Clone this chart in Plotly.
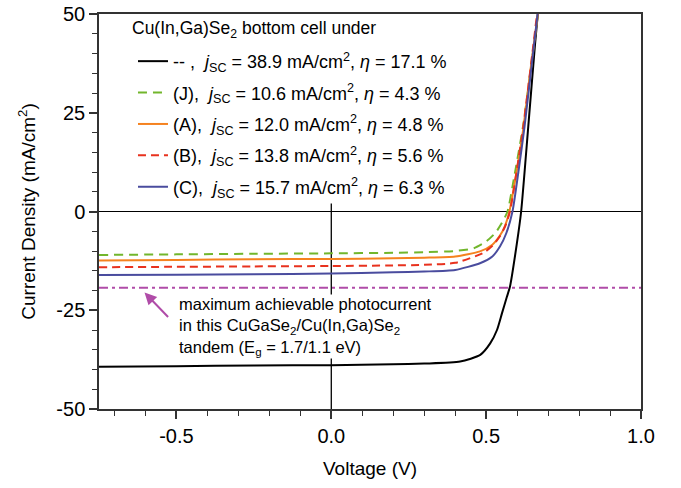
import plotly.graph_objects as go

# ---- data ----
v_ref = [-0.75, -0.5, -0.25, 0.0, 0.2, 0.3, 0.416, 0.481, 0.513, 0.535, 0.551, 0.567, 0.577, 0.599, 0.613, 0.636, 0.658, 0.668]
j_ref = [-39.3, -39.15, -39.0, -38.9, -38.7, -38.5, -38.0, -36.3, -33.4, -30.0, -25.8, -21.6, -19.0, -8.2, 0.0, 21.5, 42.5, 51.0]

v_J = [-0.75, -0.5, -0.25, 0.0, 0.2, 0.3, 0.4, 0.46, 0.5, 0.53, 0.55, 0.569, 0.59, 0.62, 0.645, 0.668]
j_J = [-11.0, -10.85, -10.7, -10.6, -10.45, -10.3, -10.0, -9.3, -7.6, -5.4, -3.0, 0.0, 8.5, 22.0, 36.5, 50.5]

v_A = [-0.75, -0.5, -0.25, 0.0, 0.2, 0.3, 0.4, 0.48, 0.52, 0.545, 0.56, 0.575, 0.595, 0.62, 0.645, 0.668]
j_A = [-12.4, -12.25, -12.1, -12.0, -11.85, -11.7, -11.4, -10.1, -8.4, -6.0, -3.8, 0.0, 8.5, 21.0, 37.0, 50.5]

v_B = [-0.75, -0.5, -0.25, 0.0, 0.2, 0.3, 0.4, 0.49, 0.52, 0.545, 0.561, 0.577, 0.6, 0.62, 0.653, 0.665]
j_B = [-14.1, -14.0, -13.9, -13.8, -13.65, -13.5, -13.0, -10.5, -8.7, -6.2, -3.8, 0.0, 11.0, 21.5, 42.5, 50.5]

v_C = [-0.75, -0.5, -0.25, 0.0, 0.2, 0.3, 0.4, 0.48, 0.52, 0.545, 0.565, 0.585, 0.605, 0.624, 0.655, 0.667]
j_C = [-16.1, -16.0, -15.9, -15.7, -15.4, -15.2, -14.8, -13.1, -11.4, -8.8, -5.5, 0.0, 10.5, 21.5, 42.5, 50.5]

v_max = [-0.75, 1.0]
j_max = [-19.3, -19.3]

labels = [
    "-- ,  <i>j</i><sub>SC</sub> = 38.9 mA/cm<sup>2</sup>, <i>η</i> = 17.1 %",
    "(J),  <i>j</i><sub>SC</sub> = 10.6 mA/cm<sup>2</sup>, <i>η</i> = 4.3 %",
    "(A),  <i>j</i><sub>SC</sub> = 12.0 mA/cm<sup>2</sup>, <i>η</i> = 4.8 %",
    "(B),  <i>j</i><sub>SC</sub> = 13.8 mA/cm<sup>2</sup>, <i>η</i> = 5.6 %",
    "(C),  <i>j</i><sub>SC</sub> = 15.7 mA/cm<sup>2</sup>, <i>η</i> = 6.3 %",
]
legend_title = "Cu(In,Ga)Se<sub>2</sub> bottom cell under"
note_text = ("maximum achievable photocurrent<br>"
             "in this CuGaSe<sub>2</sub>/Cu(In,Ga)Se<sub>2</sub><br>"
             "tandem (E<sub>g</sub> = 1.7/1.1 eV)")
x_ticks = [-0.5, 0.0, 0.5, 1.0]
x_ticktext = ["-0.5", "0.0", "0.5", "1.0"]
y_ticks = [-50, -25, 0, 25, 50]
y_ticktext = ["-50", "-25", "0", "25", "50"]

FONT = "Arial, Liberation Sans, sans-serif"
colors = ["#000000", "#72b62c", "#f5821f", "#e8321e", "#4a4c9e"]
dashes = ["solid", "9px,6px", "solid", "8px,5px", "solid"]
magenta = "#b04ca8"

fig = go.Figure()
fig.add_trace(go.Scatter(x=v_max, y=j_max, mode="lines", showlegend=False,
                         line=dict(color=magenta, width=1.8, dash="9px,4px,3px,4px")))

series = [(v_ref, j_ref), (v_J, j_J), (v_A, j_A), (v_B, j_B), (v_C, j_C)]
for i, ((vx, jy), lab, c, d) in enumerate(zip(series, labels, colors, dashes)):
    fig.add_trace(go.Scatter(x=vx, y=jy, mode="lines", name=lab, legendgroup=f"g{i}",
                             line=dict(color=c, width=2, dash=d, shape="spline", smoothing=0.6)))

# vertical reference line at V = 0 (stops just above the zero line, as in the reference)
fig.add_shape(type="line", xref="x", yref="y", x0=0, x1=0, y0=-50, y1=2,
              line=dict(color="black", width=1.3), layer="below")

fig.add_annotation(x=-0.494, y=-29, xref="x", yref="y", text=note_text, showarrow=False,
                   xanchor="left", yanchor="middle", align="left", bgcolor="white", borderpad=0,
                   font=dict(family=FONT, size=16.5, color="black"))
fig.add_annotation(x=-0.603, y=-20.5, xref="x", yref="y", text="", showarrow=True,
                   ax=25, ay=26, arrowcolor=magenta, arrowwidth=2, arrowhead=2, arrowsize=1.2)
fig.add_annotation(x=0.057, y=0.9595, xref="paper", yref="paper", text=legend_title, showarrow=False,
                   xanchor="left", yanchor="middle", align="left",
                   font=dict(family=FONT, size=17.5, color="black"))

axis_common = dict(showline=True, linecolor="#333333", linewidth=1.5, mirror=True,
                   ticks="outside", ticklen=8, tickwidth=1.5, tickcolor="#333333",
                   showgrid=False, automargin=False,
                   tickfont=dict(family=FONT, size=20, color="black"))

fig.update_layout(
    width=681, height=488,
    margin=dict(l=99, r=40, t=14, b=79),
    plot_bgcolor="white", paper_bgcolor="white",
    font=dict(family=FONT, color="black"),
    xaxis=dict(range=[-0.75, 1.0], tickvals=x_ticks, ticktext=x_ticktext, zeroline=False,
               minor=dict(dtick=0.1, tick0=0, ticks="outside", ticklen=5, tickwidth=1.2, tickcolor="#333333"),
               title=dict(text="Voltage (V)", font=dict(family=FONT, size=19), standoff=16),
               **axis_common),
    yaxis=dict(range=[-50, 50], tickvals=y_ticks, ticktext=y_ticktext,
               zeroline=True, zerolinecolor="black", zerolinewidth=1.3,
               minor=dict(dtick=5, tick0=0, ticks="outside", ticklen=5, tickwidth=1.2, tickcolor="#333333"),
               title=dict(text="Current Density (mA/cm<sup>2</sup>)", font=dict(family=FONT, size=19), standoff=16),
               **axis_common),
    legend=dict(x=0.0627, y=0.9267, xanchor="left", yanchor="top", bgcolor="rgba(0,0,0,0)", borderwidth=0,
                font=dict(family=FONT, size=18, color="black"),
                tracegroupgap=5),
)

# remove the default 8 px page margin so the figure sits at the window origin
fig.write_html("out.html", config={"displayModeBar": False},
               post_script="document.body.style.margin='0px';")
